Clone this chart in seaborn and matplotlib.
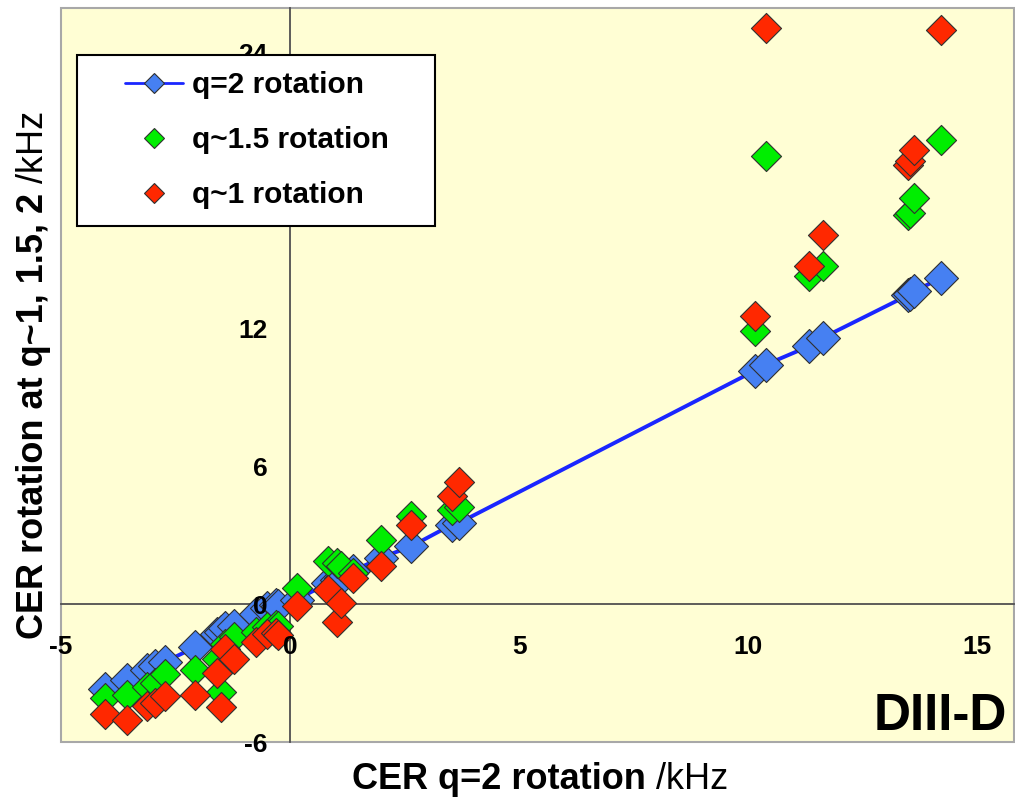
import numpy as np
import pandas as pd
import seaborn as sns
import matplotlib
matplotlib.use("Agg")
import matplotlib.pyplot as plt
from matplotlib.lines import Line2D
from matplotlib.legend_handler import HandlerLine2D

# ---------------- data ----------------
cer_q2 = [-4.04, -3.55, -3.12, -2.95, -2.72, -2.08, -1.60, -1.50, -1.42, -1.22,
          -0.75, -0.50, -0.30, -0.26,
          0.14, 0.82, 1.03, 1.12, 1.38, 1.98, 2.64, 3.53, 3.68,
          10.15, 10.39, 11.33, 11.63, 13.48, 13.52, 13.62, 14.21]
rot_q2 = [-3.70, -3.30, -2.85, -2.71, -2.50, -1.88, -1.30, -1.20, -1.05, -0.95,
          -0.45, -0.15, -0.05, -0.10,
          0.20, 0.90, 1.05, 1.15, 1.45, 2.02, 2.51, 3.46, 3.53,
          10.17, 10.43, 11.23, 11.60, 13.44, 13.50, 13.63, 14.19]
rot_q15 = [-4.09, -3.94, -3.60, -3.43, -3.05, -2.88, -2.40, -3.82, -1.75, -1.45,
           -1.20, -1.00, -0.90, -0.95,
           0.70, 1.90, 1.79, 1.65, 1.35, 2.80, 3.82, 4.11, 4.25,
           11.87, 19.51, 14.28, 14.72, 16.93, 17.04, 17.67, 20.20]
rot_q1 = [-4.76, -5.05, -4.45, -4.30, -4.00, -3.97, -3.00, -4.48, -1.95, -2.40,
          -1.63, -1.30, -1.26, -1.35,
          -0.10, 0.62, -0.76, 0.04, 1.13, 1.64, 3.46, 4.72, 5.32,
          12.54, 25.06, 14.72, 16.07, 19.12, 19.30, 19.77, 24.99]

series_labels = ["q=2 rotation", "q~1.5 rotation", "q~1 rotation"]
x_ticks = [-5, 0, 5, 10, 15]
y_ticks = [-6, 0, 6, 12, 18, 24]
y_tick_labels = ["-6", "0", "6", "12", "", "24"]   # 18 is hidden by the legend

# ---------------- styling ----------------
BG = "#FFFED4"
BLUE = "#4680F2"
LINE_BLUE = "#1A26FF"
GREEN = "#00EE00"
RED = "#FF2800"
EDGE = "#303030"

sns.set_theme(style="white")
plt.rcParams["font.family"] = ["Liberation Sans", "DejaVu Sans"]
plt.rcParams.update({"text.color": "black", "axes.labelcolor": "black",
                     "xtick.color": "black", "ytick.color": "black"})

W, H = 1015, 798
fig = plt.figure(figsize=(W / 100, H / 100), dpi=100)
fig.patch.set_facecolor("white")
ax = fig.add_axes([61 / W, (798 - 742) / H, (1014 - 61) / W, (742 - 8) / H])
ax.set_facecolor(BG)

df = pd.DataFrame({"x": cer_q2, "q2": rot_q2, "q15": rot_q15, "q1": rot_q1})

# q=2 line + markers
sns.lineplot(data=df, x="x", y="q2", ax=ax, color=LINE_BLUE, lw=2.8,
             sort=True, estimator=None, zorder=2, legend=False)
sns.scatterplot(data=df, x="x", y="q2", ax=ax, marker="D", s=300, color=BLUE,
                edgecolor=EDGE, linewidth=0.8, zorder=3, legend=False)
sns.scatterplot(data=df, x="x", y="q15", ax=ax, marker="D", s=235, color=GREEN,
                edgecolor=EDGE, linewidth=0.8, zorder=4, legend=False)
sns.scatterplot(data=df, x="x", y="q1", ax=ax, marker="D", s=235, color=RED,
                edgecolor=EDGE, linewidth=0.8, zorder=5, legend=False)

ax.set_xlim(-5, 15.8)
ax.set_ylim(-6, 25.95)
ax.set_xticks(x_ticks)
ax.set_yticks(y_ticks)
ax.set_xticklabels([str(v) for v in x_ticks])
ax.set_yticklabels(y_tick_labels)
ax.set_xlabel("")
ax.set_ylabel("")

# spines crossing at the origin
for s in ["top", "right"]:
    ax.spines[s].set_visible(False)
for s in ["left", "bottom"]:
    ax.spines[s].set_position(("data", 0))
    ax.spines[s].set_color("#505050")
    ax.spines[s].set_linewidth(1.3)
    ax.spines[s].set_zorder(1.5)
ax.patch.set_edgecolor("#A8A8A8")
ax.patch.set_linewidth(1.5)

ax.tick_params(axis="x", direction="out", length=6, width=1.2, color="#505050",
               labelcolor="black", pad=16, labelsize=19)
ax.tick_params(axis="y", direction="out", length=6, width=1.2, color="#505050",
               labelcolor="black", pad=10, labelsize=19)
for lab in ax.get_xticklabels() + ax.get_yticklabels():
    lab.set_fontweight("bold")
# tick labels are drawn above the markers, as in the reference
ax.xaxis.set_zorder(6)
ax.yaxis.set_zorder(6)

# legend
handles = [
    Line2D([], [], color=LINE_BLUE, lw=2, marker="D", ms=10, mfc=BLUE, mec=EDGE, mew=0.8),
    Line2D([], [], ls="none", marker="D", ms=10, mfc=GREEN, mec=EDGE, mew=0.8),
    Line2D([], [], ls="none", marker="D", ms=10, mfc=RED, mec=EDGE, mew=0.8),
]
lx0 = (77 - 61) / 953
lw_ = (435 - 77) / 953
ly0 = (742 - 229) / 734
lh_ = (229 - 55) / 734
leg = ax.legend(handles, series_labels, loc="upper left", mode="expand",
                bbox_to_anchor=(lx0, ly0, lw_, lh_),
                borderaxespad=0, frameon=True, fancybox=False, framealpha=1,
                facecolor="white", edgecolor="black", numpoints=1,
                prop={"weight": "bold", "size": 21.5}, borderpad=0.55,
                labelspacing=0.9, handlelength=3.0, handletextpad=0.3,
                handler_map={Line2D: HandlerLine2D(xpad=1.05, numpoints=1)})
leg.get_frame().set_linewidth(1.5)
leg.set_zorder(10)
for t in leg.get_texts():
    t.set_color("black")

# DIII-D tag
ax.text(0.993, 0.016, "DIII-D", transform=ax.transAxes, ha="right", va="baseline",
        fontsize=37, fontweight="bold", color="black", zorder=6)

# axis labels: bold part + regular unit
fs = 26
t1 = fig.text(0, (798 - 789) / H, "CER q=2 rotation", fontsize=fs, fontweight="bold",
              ha="left", va="baseline", color="black")
t2 = fig.text(0, (798 - 789) / H, "/kHz", fontsize=fs, ha="left", va="baseline",
              color="black")
t3 = fig.text(43 / W, 0, "CER rotation at q~1, 1.5, 2", fontsize=fs, fontweight="bold",
              rotation=90, rotation_mode="anchor", ha="left", va="baseline", color="black")
t4 = fig.text(43 / W, 0, "/kHz", fontsize=fs, rotation=90, rotation_mode="anchor",
              ha="left", va="baseline", color="black")

fig.canvas.draw()
r = fig.canvas.get_renderer()
gap = 0.278 * fs * 100 / 72
w1 = t1.get_window_extent(r).width
w2 = t2.get_window_extent(r).width
x0 = 540 - (w1 + gap + w2) / 2
t1.set_x(x0 / W)
t2.set_x((x0 + w1 + gap) / W)
h3 = t3.get_window_extent(r).height
h4 = t4.get_window_extent(r).height
y0 = (798 - 375) - (h3 + gap + h4) / 2
t3.set_y(y0 / H)
t4.set_y((y0 + h3 + gap) / H)

fig.savefig("out.png", dpi=100, facecolor="white")
